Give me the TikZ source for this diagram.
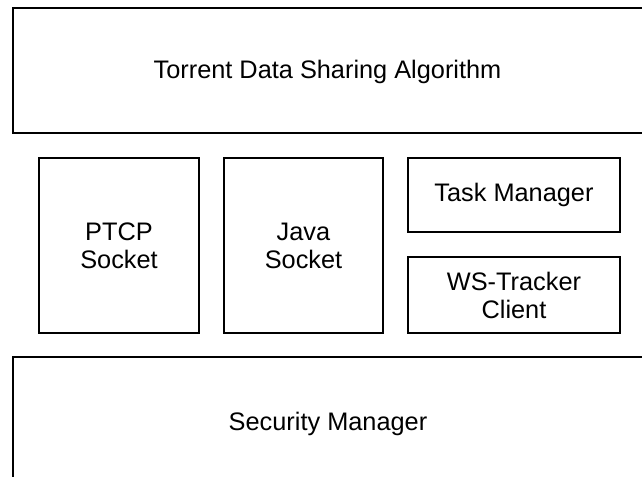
\documentclass[tikz,border=0pt]{standalone}
\usepackage{fontspec}
\setmainfont{Liberation Sans}
\begin{document}
\begin{tikzpicture}[x=0.75pt,y=-0.75pt,
  box/.style={draw=black,line width=1.3pt},
  lbl/.style={align=center,inner sep=0pt,anchor=base,font=\fontsize{19pt}{21pt}\selectfont},
  cell/.style={box,align=center,inner sep=0pt,font=\fontsize{19pt}{21pt}\selectfont}]
\useasboundingbox (0,0) rectangle (642,477);
\clip (0,0) rectangle (642,477);
% top box
\draw[box] (13,8) rectangle (680,133);
\node[lbl] (tdsa) at (327.5,78.5) {Torrent Data Sharing Algorithm};
% middle boxes
\node[cell,minimum width=160*0.75pt,minimum height=175*0.75pt] (ptcp) at (119,245.5) {PTCP\\Socket};
\node[cell,minimum width=159*0.75pt,minimum height=175*0.75pt] (java) at (303.5,245.5) {Java\\Socket};
\node[cell,minimum width=212*0.75pt,minimum height=74*0.75pt] (task) at (514,195) {Task Manager};
\node[cell,minimum width=212*0.75pt,minimum height=76*0.75pt] (ws) at (514,295) {WS-Tracker\\Client};
% bottom box
\draw[box] (13,357) rectangle (680,520);
\node[lbl] (sec) at (328,430) {Security Manager};
\end{tikzpicture}
\end{document}
